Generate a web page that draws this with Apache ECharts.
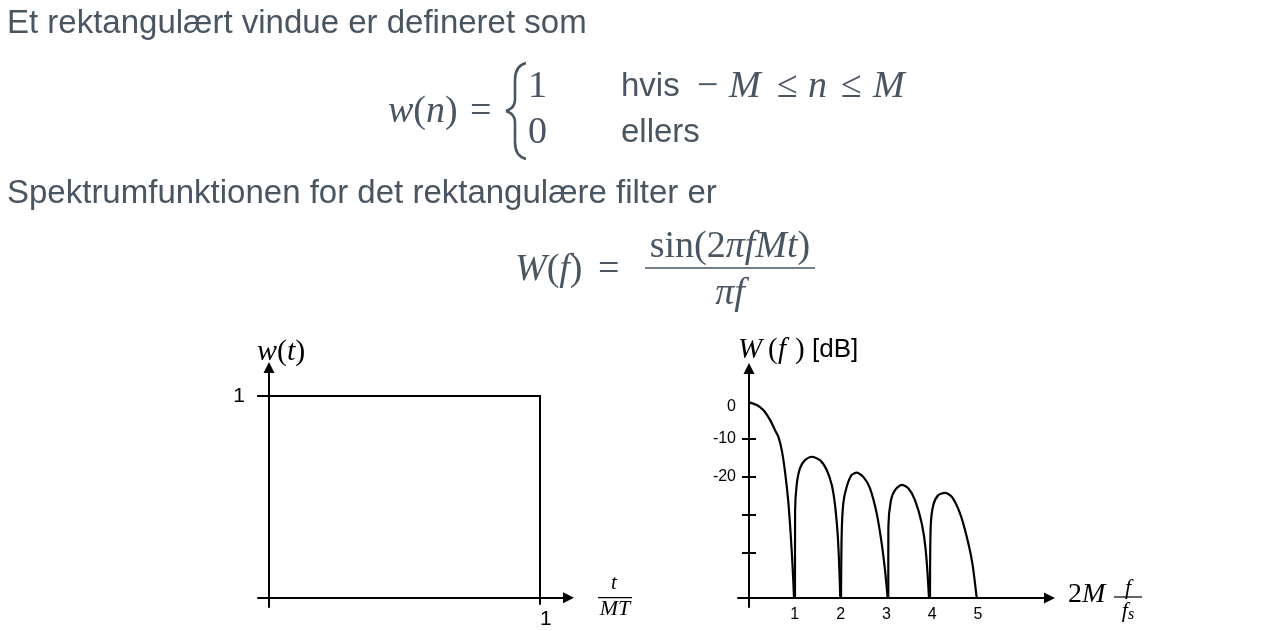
<!DOCTYPE html>
<html>
<head>
<meta charset="utf-8">
<script src="https://cdn.jsdelivr.net/npm/echarts@6/dist/echarts.min.js"></script>
<style>
html,body{margin:0;padding:0;background:#fff;}
#c{width:1265px;height:631px;}
</style>
</head>
<body>
<div id="c"></div>
<script>
// ---------- data ----------
// left chart: rectangular window w(t) vs t/MT
const rectT = [0, 1, 1];
const rectW = [1, 1, 0];
const wTickValues = [1];
const tTickValues = [1];

// right chart: |W(f)| in dB vs 2M f/fs (main lobe + side lobes)
const lobe1 = [[0,-0.5],[0.168,-1.2],[0.312,-2.5],[0.459,-5.1],[0.568,-7.8],[0.640,-9.5],[0.714,-13.0],[0.786,-18.7],[0.858,-26.6],[0.911,-35.4],[0.954,-44.2],[0.983,-52]];
const lobe2 = [[1.004,-52],[1.006,-29.3],[1.041,-22.2],[1.114,-17.8],[1.223,-15.7],[1.369,-14.8],[1.550,-15.7],[1.697,-18.3],[1.806,-22.2],[1.878,-27.5],[1.937,-35.4],[1.972,-44.1],[1.993,-52]];
const lobe3 = [[2.009,-52],[2.024,-34.9],[2.059,-27.0],[2.133,-22.7],[2.242,-19.6],[2.351,-19.0],[2.496,-20.1],[2.642,-23.1],[2.788,-29.7],[2.897,-37.6],[2.969,-44.6],[3.028,-52]];
const lobe4 = [[3.041,-52],[3.043,-33.2],[3.100,-26.2],[3.188,-23.6],[3.334,-22.2],[3.478,-23.1],[3.624,-26.2],[3.771,-32.3],[3.858,-39.3],[3.930,-52]];
const lobe5 = [[3.952,-52],[3.967,-33.2],[4.024,-27.5],[4.133,-24.9],[4.279,-24.3],[4.426,-25.3],[4.607,-29.7],[4.753,-35.8],[4.876,-42.8],[4.972,-52]];
const dbTickValues = [-10, -20, -30, -40];
const dbLabelValues = [0, -10, -20];
const freqLabelValues = [1, 2, 3, 4, 5];
const dbAxisFloor = -52; // dB level where the frequency axis crosses

// ---------- styling ----------
const TXT = '#4a5562';
const SANS = 'Liberation Sans';
const SERIF = 'Liberation Serif';
const BLACK = '#000';
const DY = 2; // vertical nudge for slide text

function richStyles(size, color) {
  return {
    i: {fontFamily: SERIF, fontSize: size, fontStyle: 'italic', fill: color, color: color},
    r: {fontFamily: SERIF, fontSize: size, fontStyle: 'normal', fill: color, color: color},
    s: {fontFamily: SERIF, fontSize: Math.round(size * 0.72), fontStyle: 'italic', fill: color, color: color, padding: [Math.round(size*0.3),0,0,0]}
  };
}
function txt(text, x, y, size, opts) {
  opts = opts || {};
  const color = opts.color || TXT;
  const align = opts.align || 'left';
  const style = {
    text: text, fill: color, fontSize: size,
    fontFamily: opts.family || SANS, fontStyle: opts.italic ? 'italic' : 'normal',
    align: align, textAlign: align, verticalAlign: 'middle', textVerticalAlign: 'middle'
  };
  if (opts.rich) style.rich = richStyles(size, color);
  return {type: 'text', x: x, y: y + DY, silent: true, style: style};
}
function hline(x1, x2, y, color, w) {
  return {type: 'line', silent: true, shape: {x1: x1, y1: y, x2: x2, y2: y}, style: {stroke: color, lineWidth: w}};
}
function bez(x1, y1, cx1, cy1, cx2, cy2, x2, y2) {
  return {type: 'bezierCurve', silent: true,
          shape: {x1: x1, y1: y1, cpx1: cx1, cpy1: cy1, cpx2: cx2, cpy2: cy2, x2: x2, y2: y2},
          style: {stroke: TXT, fill: null, lineWidth: 2.6}};
}
function seg(x1, y1, x2, y2) {
  return {type: 'line', silent: true, shape: {x1: x1, y1: y1, x2: x2, y2: y2}, style: {stroke: TXT, lineWidth: 2.6}};
}

const M = 38; // math font size on the slide

const graphics = [
  txt('Et rektangulært vindue er defineret som', 7, 22, 33),
  // w(n) = { 1 hvis -M <= n <= M ; 0 ellers
  txt('{i|w}{r|(}{i|n}{r|)}', 388, 110, M, {rich: true}),
  txt('=', 470, 110, M, {family: SERIF}),
  // curly brace
  bez(526, 63, 518, 65, 515, 71, 515, 80),
  seg(515, 80, 515, 100),
  bez(515, 100, 515, 106, 512, 109, 506, 111),
  bez(506, 111, 512, 113, 515, 116, 515, 122),
  seg(515, 122, 515, 142),
  bez(515, 142, 515, 151, 518, 157, 526, 159),
  txt('1', 528, 85, M, {family: SERIF}),
  txt('0', 528, 131, M, {family: SERIF}),
  txt('hvis', 621, 85, 33),
  txt('\u2212', 697, 85, M, {family: SERIF}),
  txt('M', 729, 85, M, {family: SERIF, italic: true}),
  txt('\u2264', 777, 85, M, {family: SERIF}),
  txt('n', 808, 85, M, {family: SERIF, italic: true}),
  txt('\u2264', 841, 85, M, {family: SERIF}),
  txt('M', 873, 85, M, {family: SERIF, italic: true}),
  txt('ellers', 621, 131, 33),
  txt('Spektrumfunktionen for det rektangulære filter er', 7, 192, 33),
  // W(f) = sin(2 pi f M t) / (pi f)
  txt('{i|W}{r|(}{i|f}{r|)}', 515, 268, M, {rich: true}),
  txt('=', 598, 268, M, {family: SERIF}),
  txt('{r|sin(2}{i|\u03c0fMt}{r|)}', 730, 245, M, {rich: true, align: 'center'}),
  hline(645, 815, 268, TXT, 1.6),
  txt('{i|\u03c0f}', 730, 292, M, {rich: true, align: 'center'}),
  // left chart titles
  txt('{i|w}{r|(}{i|t}{r|)}', 257, 350, 30, {rich: true, color: BLACK}),
  txt('t', 614, 581, 21, {family: SERIF, italic: true, color: BLACK, align: 'center'}),
  hline(598, 632, 597.7, BLACK, 1.2),
  txt('MT', 615, 607, 22, {family: SERIF, italic: true, color: BLACK, align: 'center'}),
  // right chart titles
  txt('W', 738, 348, 29, {family: SERIF, italic: true, color: BLACK}),
  txt('(', 768, 348, 29, {family: SERIF, color: BLACK}),
  txt('f', 778, 348, 29, {family: SERIF, italic: true, color: BLACK}),
  txt(')', 795, 348, 29, {family: SERIF, color: BLACK}),
  txt('[dB]', 812, 348, 26, {color: BLACK}),
  txt('{r|2}{i|M}', 1068, 593, 28, {rich: true, color: BLACK}),
  txt('f', 1128, 586, 22, {family: SERIF, italic: true, color: BLACK, align: 'center'}),
  hline(1114, 1142, 597, BLACK, 1.2),
  txt('{i|f}{s|s}', 1128, 609, 22, {rich: true, color: BLACK, align: 'center'})
];

const axisLineBase = {lineStyle: {color: BLACK, width: 2}, symbol: ['none', 'triangle'], symbolSize: [11, 11]};
const tickLine = {color: BLACK, width: 2};

const option = {
  animation: false,
  backgroundColor: '#fff',
  grid: [
    {left: 258, top: 367.5, width: 310.5, height: 239.5, containLabel: false, outerBoundsMode: 'none'},
    {left: 738, top: 368.5, width: 311.5, height: 238.5, containLabel: false, outerBoundsMode: 'none'}
  ],
  xAxis: [
    {gridIndex: 0, type: 'value', min: -0.0406, max: 1.1052, position: 'bottom',
     axisLine: Object.assign({onZero: true, onZeroAxisIndex: 0}, axisLineBase),
     axisTick: {show: true, customValues: tTickValues, length: 7, lineStyle: tickLine},
     axisLabel: {customValues: tTickValues, align: 'left', margin: 2, fontSize: 21, color: BLACK, fontFamily: SANS},
     splitLine: {show: false}},
    {gridIndex: 1, type: 'value', min: -0.2402, max: 6.561, position: 'bottom',
     axisLine: Object.assign({onZero: true, onZeroAxisIndex: 2}, axisLineBase),
     axisTick: {show: false, length: 0},
     axisLabel: {customValues: freqLabelValues, margin: 0, fontSize: 16, color: BLACK, fontFamily: SANS},
     splitLine: {show: false}}
  ],
  yAxis: [
    {gridIndex: 0, type: 'value', min: -0.0461, max: 1.1413, position: 'left',
     axisLine: Object.assign({onZero: true, onZeroAxisIndex: 0}, axisLineBase),
     axisTick: {show: true, customValues: wTickValues, length: 12, lineStyle: tickLine},
     axisLabel: {customValues: wTickValues, margin: 13, fontSize: 21, color: BLACK, fontFamily: SANS},
     splitLine: {show: false}},
    {gridIndex: 1, type: 'value', min: -54.342, max: 8.421, position: 'left',
     axisLine: Object.assign({onZero: true, onZeroAxisIndex: 1}, axisLineBase),
     axisTick: {show: true, customValues: dbTickValues, length: 7, lineStyle: tickLine},
     axisLabel: {customValues: dbLabelValues, margin: 2, fontSize: 16, color: BLACK, fontFamily: SANS,
       formatter: function (v) { return v === 0 ? '{z|0}' : String(v); },
       rich: {z: {fontSize: 16, color: BLACK, fontFamily: SANS, padding: [12, 0, 0, 0]}}},
     splitLine: {show: false}},
    // hidden helper axis: its zero sits at the dB floor so the frequency axis crosses there
    {gridIndex: 1, type: 'value', show: false, min: -54.342 - dbAxisFloor, max: 8.421 - dbAxisFloor, position: 'left',
     splitLine: {show: false}},
    // inner half of the dB ticks (ticks cross the axis)
    {gridIndex: 1, type: 'value', min: -54.342, max: 8.421, position: 'left',
     axisLine: {show: false, onZero: true, onZeroAxisIndex: 1},
     axisTick: {show: true, inside: true, customValues: dbTickValues, length: 7, lineStyle: tickLine},
     axisLabel: {show: false}, splitLine: {show: false}}
  ],
  series: [
    {type: 'line', xAxisIndex: 0, yAxisIndex: 0, silent: true, showSymbol: false,
     data: rectT.map(function (t, i) { return [t, rectW[i]]; }),
     lineStyle: {color: BLACK, width: 2, join: 'miter'}}
  ].concat([lobe1, lobe2, lobe3, lobe4, lobe5].map(function (lobe) {
    return {type: 'line', xAxisIndex: 1, yAxisIndex: 1, silent: true, showSymbol: false,
            smooth: 0.25, data: lobe, lineStyle: {color: BLACK, width: 2.2}};
  })),
  graphic: {elements: graphics}
};

const chart = echarts.init(document.getElementById('c'), null, {renderer: 'canvas'});
chart.setOption(option);
</script>
</body>
</html>
